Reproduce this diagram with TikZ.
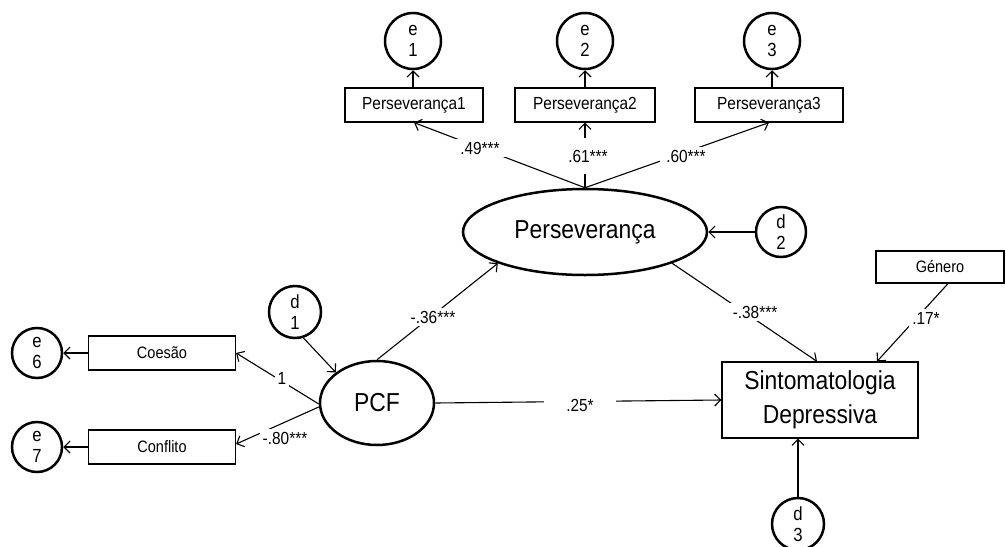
\documentclass[tikz,border=0pt]{standalone}
\usepackage{fontspec}
\setmainfont{Liberation Sans}
\newfontfamily\nar[FakeStretch=0.88]{Liberation Sans}
\usetikzlibrary{shapes.geometric,arrows.meta,calc}
\begin{document}
\begin{tikzpicture}[x=1pt,y=-1pt,
  lat/.style={ellipse,draw,line width=2.5pt,inner sep=0pt,font=\nar\fontsize{26}{30}\selectfont},
  obsbox/.style={rectangle,draw,line width=1.2pt,inner sep=0pt},
  errc/.style={circle,draw,line width=2.5pt,inner sep=0pt,align=center,font=\nar\fontsize{19}{21}\selectfont},
  arr/.style={-{Straight Barb[length=6pt,width=12pt,line width=1.1pt]},line width=1.1pt},
  coef/.style={fill=white,inner sep=3pt,font=\nar\fontsize{17.5}{19}\selectfont}
]
\useasboundingbox (0,0) rectangle (1006,546);

% latent variables
\node[lat,minimum width=244pt,minimum height=86pt] (pers) at (585,232) {Perseverança};
\node[lat,minimum width=114pt,minimum height=84pt] (pcf) at (377,403) {PCF};

% observed variables
\node[obsbox,minimum width=138pt,minimum height=34pt,font=\nar\fontsize{17.5}{20}\selectfont] (p1) at (414,105) {Perseverança1};
\node[obsbox,minimum width=140pt,minimum height=34pt,font=\nar\fontsize{17.5}{20}\selectfont] (p2) at (585,105) {Perseverança2};
\node[obsbox,minimum width=148pt,minimum height=34pt,font=\nar\fontsize{17.5}{20}\selectfont] (p3) at (769,105) {Perseverança3};
\node[obsbox,minimum width=147pt,minimum height=34pt,font=\nar\fontsize{16.5}{19}\selectfont] (coes) at (162,353) {Coesão};
\node[obsbox,minimum width=147pt,minimum height=34pt,font=\nar\fontsize{16.5}{19}\selectfont] (conf) at (162,447) {Conflito};
\node[obsbox,minimum width=128pt,minimum height=32pt,font=\nar\fontsize{16.5}{19}\selectfont] (gen) at (940,267) {Género};
\node[obsbox,minimum width=196pt,minimum height=76pt,align=center,font=\nar\fontsize{26}{34}\selectfont] (sint) at (820,400) {Sintomatologia\\Depressiva};

% error / disturbance terms
\node[errc,minimum size=56pt] (e1) at (413,41) {e\\1};
\node[errc,minimum size=56pt] (e2) at (585,41) {e\\2};
\node[errc,minimum size=56pt] (e3) at (772,41) {e\\3};
\node[errc,minimum size=50pt] (d2) at (781,232) {d\\2};
\node[errc,minimum size=52pt] (d1) at (295,312) {d\\1};
\node[errc,minimum size=50pt] (e6) at (37,353) {e\\6};
\node[errc,minimum size=50pt] (e7) at (37,447) {e\\7};
\node[errc,minimum size=52pt] (d3) at (798,524) {d\\3};

% connectors
\draw[arr] (p1.north -| e1) -- (e1.south);
\draw[arr] (p2.north) -- (e2.south);
\draw[arr] (p3.north -| e3) -- (e3.south);
\draw[arr] (pers.north) -- (p1.south);
\draw[arr] (pers.north) -- (p2.south);
\draw[arr] (pers.north) -- (p3.south);
\draw[arr] (d2.west) -- (pers.east);
\draw[arr] (pers.south east) -- ([xshift=-3pt]sint.north);
\draw[arr] ([xshift=8pt]gen.south) -- ([xshift=57pt]sint.north);
\draw[arr] (pcf.north) -- (pers.south west);
\draw[arr] (pcf.east) -- (sint.west);
\draw[arr] (d1.-72) -- (pcf.north west);
\draw[arr] ([yshift=-1pt]pcf.west) -- (coes.east);
\draw[arr] ([yshift=-4pt]pcf.west) -- ([yshift=3pt]conf.east);
\draw[arr] (coes.west) -- (e6.east);
\draw[arr] (conf.west) -- (e7.east);
\draw[arr] (d3.north) -- (d3.north |- sint.south);

% coefficients
\node[coef,inner xsep=8pt] (c49) at (480,148) {.49***};
\node[coef,inner ysep=12pt] (c61) at (588,156) {.61***};
\node[coef,inner xsep=6pt] (c60) at (686,156) {.60***};
\node[coef] (c36) at (433,317) {-.36***};
\node[coef,inner xsep=6pt] (c38) at (755,312) {-.38***};
\node[coef] (c17) at (926,318) {.17*};
\node[coef,inner xsep=22pt] (c25) at (580,405) {.25*};
\node[coef] (c1) at (282,378) {1};
\node[coef] (c80) at (285,438) {-.80***};
\end{tikzpicture}
\end{document}
